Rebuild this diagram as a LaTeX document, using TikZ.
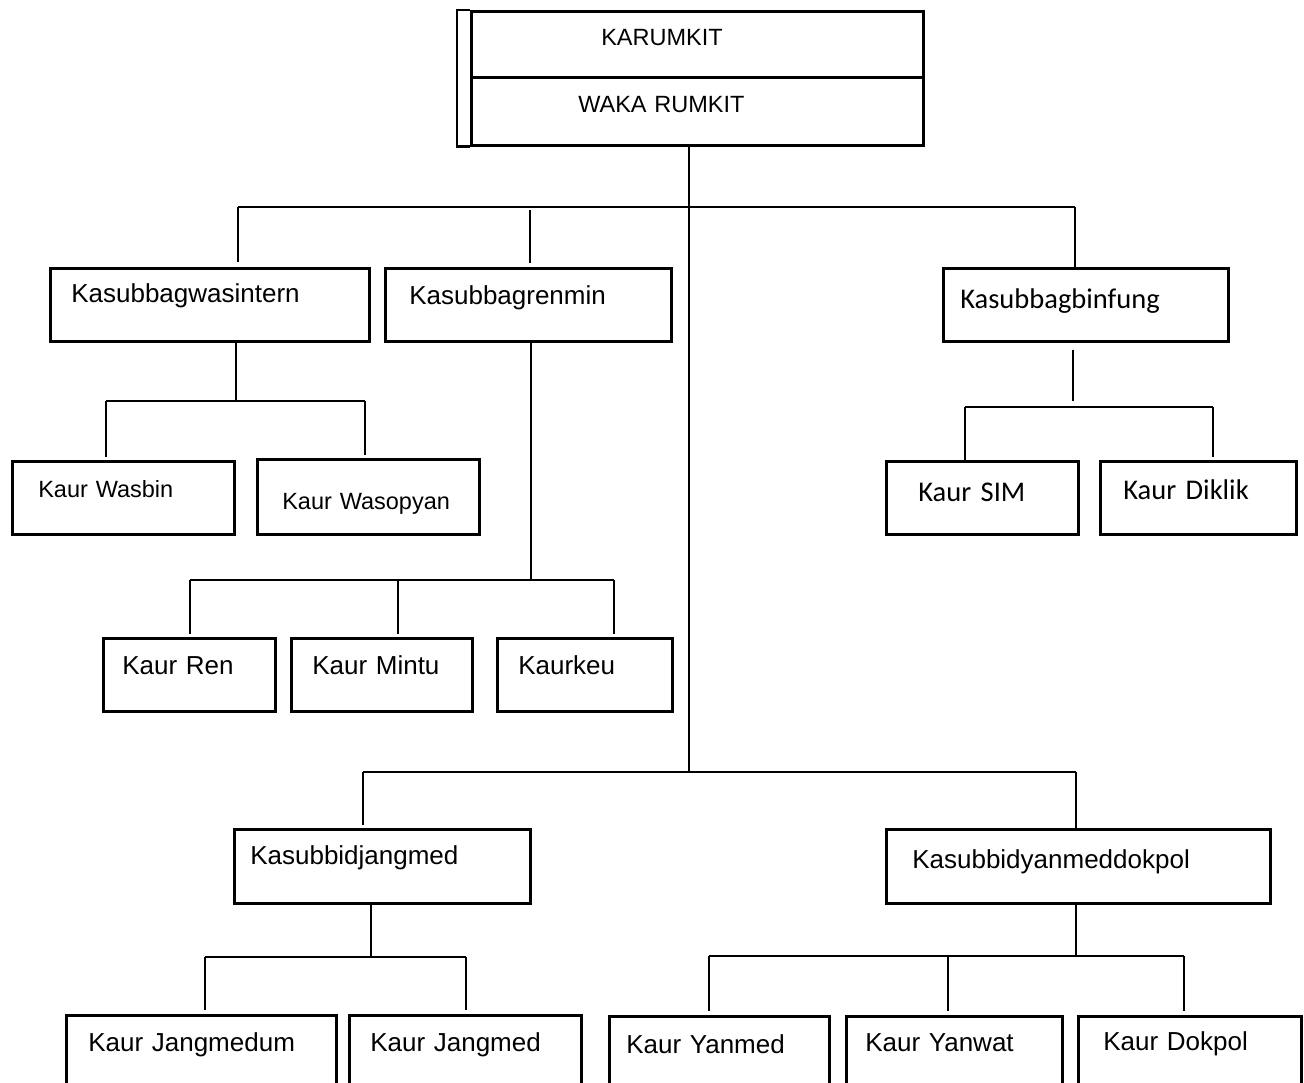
\documentclass[tikz,border=0pt]{standalone}
\usepackage{fontspec}
\setmainfont{Liberation Sans}
\newfontfamily\calib{Carlito}
\usepackage{tikz}

\begin{document}
\begin{tikzpicture}[x=1pt,y=-1pt,
    lbl/.style={font=\fontsize{26}{30}\selectfont},
    lblsm/.style={font=\fontsize{23.5}{28}\selectfont},
    lblcal/.style={font=\calib\fontsize{28.5}{32}\selectfont},
    orgbox/.style={draw,line width=2.6pt,anchor=north west,inner ysep=0pt,align=left,lbl},
    dims/.style n args={4}{inner xsep=#1pt,text width=#2pt,text height=#3pt,text depth=#4pt},
    link/.style={line width=2.3pt},
    gap/.style={shorten >=3pt}]
    \useasboundingbox (0,0) rectangle (1304,1083);
    \clip (0,0) rectangle (1304,1083);
    %% top
    \node[orgbox,lblsm,dims={130}{192}{34}{32}] (karumkit) at (470,10) {KARUMKIT};
    \node[orgbox,lblsm,dims={107}{238}{35}{33}] (waka) at (470,76) {WAKA RUMKIT};
    \draw[line width=2.6pt] (karumkit.north west) -- ++(-13,0) |- (waka.south west);
    %% second level
    \node[orgbox,dims={21}{277}{34}{39}] (wasintern) at (49,267) {Kasubbagwasintern};
    \node[orgbox,dims={24}{238}{36}{37}] (renmin) at (384,267) {Kasubbagrenmin};
    \node[orgbox,lblcal,dims={17}{251}{40}{33}] (binfung) at (942,267) {Kasubbagbinfung};
    \node[orgbox,dims={16}{264}{35}{39}] (jangmed) at (233,828) {Kasubbidjangmed};
    \node[orgbox,dims={26}{332}{39}{35}] (yandok) at (885,828) {Kasubbidyanmeddokpol};
    %% kaur
    \node[orgbox,lblsm,dims={26}{170}{36}{37}] (wasbin) at (11,460) {Kaur~Wasbin};
    \node[orgbox,lblsm,dims={25}{172}{50}{25}] (wasopyan) at (256,458) {Kaur~Wasopyan};
    \node[orgbox,lblcal,dims={32}{128}{40}{33}] (sim) at (885,460) {Kaur~SIM};
    \node[orgbox,lblcal,dims={23}{150}{38}{35}] (diklik) at (1099,460) {Kaur~Diklik};
    \node[orgbox,dims={19}{134}{36}{37}] (ren) at (102,637) {Kaur~Ren};
    \node[orgbox,dims={21}{139}{36}{37}] (mintu) at (290,637) {Kaur~Mintu};
    \node[orgbox,dims={21}{133}{36}{37}] (keu) at (496,637) {Kaurkeu};
    \node[orgbox,dims={22}{226}{36}{37}] (jangmedum) at (65,1014) {Kaur~Jangmedum};
    \node[orgbox,dims={21}{190}{36}{37}] (kjangmed) at (348,1014) {Kaur~Jangmed};
    \node[orgbox,dims={17}{186}{37}{36}] (yanmed) at (608,1015) {Kaur~Yanmed};
    \node[orgbox,dims={19}{178}{35}{38}] (yanwat) at (845,1015) {Kaur~Yanwat};
    \node[orgbox,dims={25}{173}{34}{39}] (dokpol) at (1077,1015) {Kaur~Dokpol};
    %% junctions
    \coordinate (j0) at (689,207);
    \coordinate (j1) at (689,772);
    \coordinate (bw) at (238,207);
    \coordinate (br) at (530,207);
    \coordinate (bf) at (1075,207);
    \coordinate (w0) at (236,401);
    \coordinate (w1) at (106,401);
    \coordinate (w2) at (365,401);
    \coordinate (r0) at (531,580);
    \coordinate (r1) at (190,580);
    \coordinate (r2) at (398,580);
    \coordinate (r3) at (614,580);
    \coordinate (f0) at (1073,407);
    \coordinate (f1) at (965,407);
    \coordinate (f2) at (1213,407);
    \coordinate (s1) at (363,772);
    \coordinate (s2) at (1076,772);
    \coordinate (m0) at (371,957);
    \coordinate (m1) at (205,957);
    \coordinate (m2) at (466,957);
    \coordinate (y0) at (1076,956);
    \coordinate (y1) at (709,956);
    \coordinate (y2) at (948,956);
    \coordinate (y3) at (1184,956);
    %% lines
    \draw[link] (waka.south -| j0) -- (j1);
    \draw[link] (bw) -- (bf);
    \draw[link,shorten >=5pt] (bw) -- (bw |- wasintern.north);
    \draw[link,shorten <=3pt,shorten >=4pt] (br) -- (br |- renmin.north);
    \draw[link] (bf) -- (bf |- binfung.north);
    \draw[link] (wasintern.south -| w0) -- (w0);
    \draw[link] (w1) -- (w2);
    \draw[link,gap] (w1) -- (w1 |- wasbin.north);
    \draw[link,gap] (w2) -- (w2 |- wasopyan.north);
    \draw[link] (renmin.south -| r0) -- (r0);
    \draw[link] (r1) -- (r3);
    \draw[link,gap] (r1) -- (r1 |- ren.north);
    \draw[link,gap] (r2) -- (r2 |- mintu.north);
    \draw[link,gap] (r3) -- (r3 |- keu.north);
    \draw[link,shorten <=7pt,shorten >=6pt] (binfung.south -| f0) -- (f0);
    \draw[link] (f1) -- (f2);
    \draw[link] (f1) -- (f1 |- sim.north);
    \draw[link,gap] (f2) -- (f2 |- diklik.north);
    \draw[link] (s1) -- (s2);
    \draw[link,gap] (s1) -- (s1 |- jangmed.north);
    \draw[link] (s2) -- (s2 |- yandok.north);
    \draw[link] (jangmed.south -| m0) -- (m0);
    \draw[link] (m1) -- (m2);
    \draw[link,shorten >=4pt] (m1) -- (m1 |- jangmedum.north);
    \draw[link,shorten >=4pt] (m2) -- (m2 |- kjangmed.north);
    \draw[link] (yandok.south -| y0) -- (y0);
    \draw[link] (y1) -- (y3);
    \draw[link,shorten >=4pt] (y1) -- (y1 |- yanmed.north);
    \draw[link,shorten >=4pt] (y2) -- (y2 |- yanwat.north);
    \draw[link,shorten >=4pt] (y3) -- (y3 |- dokpol.north);
\end{tikzpicture}
\end{document}
